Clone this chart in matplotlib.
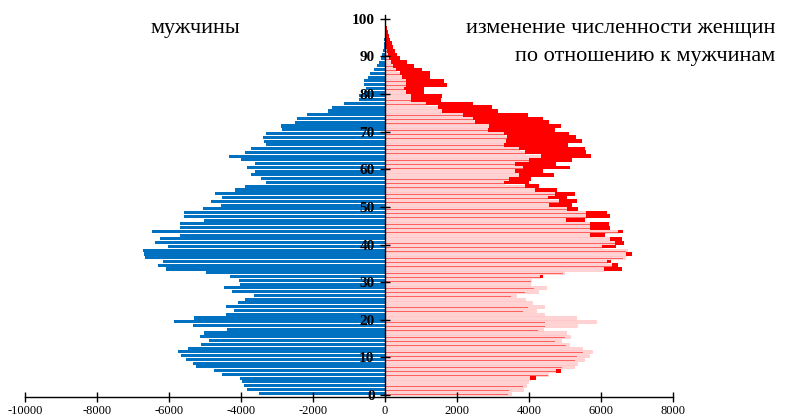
import numpy as np
import matplotlib.pyplot as plt

plt.rcParams['axes.unicode_minus'] = False

ages = np.arange(0, 101)

# men by single year of age (plotted to the left)
men = [
    3510, 3843, 3926, 3982, 4028, 4519, 4760, 5241, 5325, 5537,
    5667, 5741, 5463, 5121, 4889, 5130, 5028, 4398, 5334, 5871,
    5306, 4417, 4195, 4408, 4093, 3889, 3639, 4260, 4473, 4019,
    4047, 4315, 4982, 6093, 6315, 6158, 6660, 6690, 6714, 6028,
    6380, 6241, 5695, 6463, 5695, 5686, 5028, 5584, 5584, 5056,
    4565, 4834, 4519, 4723, 4158, 3889, 3306, 3445, 3723, 3602,
    3843, 3611, 3991, 4343, 3880, 3713, 3315, 3350, 3385, 3297,
    2850, 2895, 2505, 2445, 2160, 1570, 1463, 1139, 718, 722,
    574, 537, 574, 574, 481, 417, 306, 232, 157, 111,
    74, 50, 35, 25, 15, 10, 6, 4, 2, 1, 1,
]

# women by single year of age
women = [
    3403, 3450, 3823, 3888, 4196, 4522, 4895, 4914, 5250, 5268,
    5343, 5501, 5193, 5035, 4709, 4988, 4709, 4242, 4457, 4457,
    4550, 4121, 3823, 3963, 3683, 3636, 3500, 3890, 4150, 4000,
    4060, 4400, 4950, 6573, 6480, 6290, 6600, 6853, 6700, 6405,
    6648, 6592, 6107, 6620, 6247, 6228, 5548, 6247, 6180, 5360,
    5193, 5333, 5063, 5268, 4774, 4289, 3990, 4056, 4708, 4401,
    5147, 4755, 5203, 5734, 5594, 5548, 5082, 5482, 5315, 5110,
    4727, 4895, 4569, 4401, 3963, 3142, 2984, 2443, 1566, 1585,
    1072, 1072, 1725, 1632, 1259, 1259, 1026, 793, 606, 420,
    326, 280, 230, 186, 150, 120, 90, 60, 40, 30, 20,
]

men = np.array(men, dtype=float)
women = np.array(women, dtype=float)
y = ages + 0.5

fig = plt.figure(figsize=(7.91, 4.16), dpi=100)
ax = fig.add_axes([25 / 791, 19 / 416, 648 / 791, 382 / 416])

# men, left side
ax.barh(y, -men, height=0.82, color='#0070C0', edgecolor='none')

# men mirrored on the right, light pink
ax.barh(y, men, height=0.82, color='#FFD3D3', edgecolor='#FFC0C0', linewidth=0.4)

# women as a thin red line up to the common part
common = np.minimum(men, women)
ax.barh(y - 0.25, common, height=0.18, color='#FF6060', edgecolor='none')

# extra women over men
extra = np.clip(women - men, 0, None)
ax.barh(y, extra, left=men, height=1.0, color='#FF0000', edgecolor='none')

ax.set_xlim(-10000, 8000)
ax.set_ylim(-0.5, 101)

for s in ['top', 'right']:
    ax.spines[s].set_visible(False)
ax.spines['left'].set_position(('data', 0))
ax.spines['left'].set_bounds(-0.5, 101)
ax.spines['left'].set_linewidth(1.0)
ax.spines['bottom'].set_linewidth(1.0)
ax.spines['bottom'].set_bounds(-10000, 8000)

ax.set_xticks(np.arange(-10000, 8001, 2000))
ax.set_yticks(np.arange(0, 101, 10))
ax.tick_params(axis='x', direction='inout', length=7, width=1, labelsize=9, pad=2)
ax.tick_params(axis='y', direction='inout', length=7, width=1, labelsize=11, pad=4)
for lab in ax.get_xticklabels():
    lab.set_fontfamily('Liberation Serif')
for lab in ax.get_yticklabels():
    lab.set_fontfamily('Liberation Serif')
    lab.set_fontweight('bold')

fig.text(195 / 791, 1 - 28 / 416, 'мужчины', family='Liberation Serif', fontsize=16,
         ha='center', va='center')
fig.text(775 / 791, 1 - 28 / 416, 'изменение численности женщин', family='Liberation Serif',
         fontsize=16, ha='right', va='center')
fig.text(775 / 791, 1 - 57 / 416, 'по отношению к мужчинам', family='Liberation Serif',
         fontsize=16, ha='right', va='center')

fig.savefig('out.png', dpi=100)
